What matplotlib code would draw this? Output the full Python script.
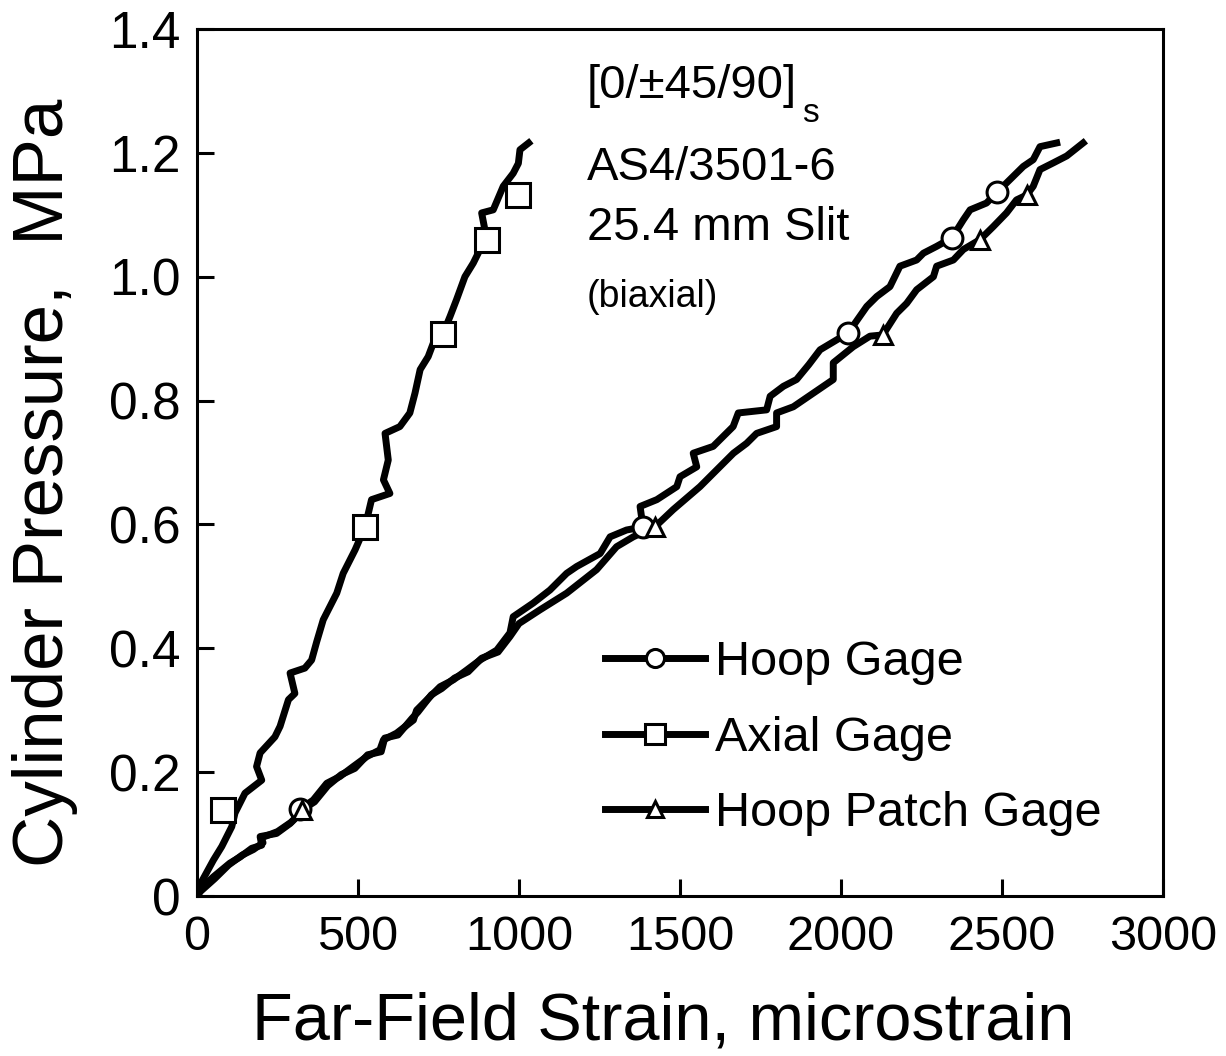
import matplotlib
matplotlib.use('Agg')
import matplotlib.pyplot as plt
from matplotlib.lines import Line2D
from matplotlib import font_manager

plt.rcParams['font.family'] = ['Liberation Sans', 'DejaVu Sans']

# ---------------- data ----------------
axial_x = [0, 9, 51, 77, 108, 118, 149, 201, 185, 196, 242, 258, 284, 304, 289, 335, 356,
           372, 392, 434, 454, 491, 522, 542, 599, 579, 594, 584, 630, 661, 677, 693, 718,
           734, 764, 786, 806, 832, 858, 879, 900, 884, 920, 951, 982, 998, 1003, 1030]
axial_y = [0, 0.018, 0.058, 0.080, 0.112, 0.134, 0.166, 0.187, 0.209, 0.231, 0.257, 0.274,
           0.317, 0.327, 0.360, 0.368, 0.381, 0.411, 0.446, 0.489, 0.521, 0.559, 0.596, 0.640,
           0.650, 0.672, 0.704, 0.747, 0.758, 0.780, 0.812, 0.850, 0.871, 0.893, 0.908, 0.936,
           0.963, 1.000, 1.022, 1.044, 1.060, 1.103, 1.108, 1.146, 1.167, 1.183, 1.205, 1.216]

hoop_x = [0, 9, 51, 102, 134, 170, 201, 196, 247, 289, 310, 320, 361, 403, 444, 485, 527,
          568, 579, 620, 672, 682, 724, 755, 796, 838, 879, 931, 972, 982, 1044, 1096, 1148,
          1179, 1252, 1283, 1334, 1385, 1376, 1428, 1490, 1500, 1552, 1541, 1603, 1665, 1681,
          1769, 1780, 1821, 1862, 1900, 1935, 2022, 2080, 2111, 2152, 2183, 2235, 2256, 2297,
          2345, 2380, 2401, 2452, 2484, 2525, 2566, 2597, 2618, 2670]
hoop_y = [0, 0.010, 0.031, 0.053, 0.063, 0.077, 0.082, 0.096, 0.101, 0.117, 0.128, 0.140,
          0.155, 0.182, 0.193, 0.209, 0.225, 0.236, 0.252, 0.263, 0.284, 0.300, 0.322, 0.338,
          0.349, 0.365, 0.381, 0.397, 0.425, 0.451, 0.473, 0.494, 0.521, 0.532, 0.553, 0.580,
          0.591, 0.596, 0.629, 0.640, 0.661, 0.677, 0.693, 0.715, 0.726, 0.758, 0.780, 0.785,
          0.807, 0.823, 0.834, 0.858, 0.882, 0.909, 0.952, 0.968, 0.984, 1.017, 1.027, 1.038,
          1.049, 1.063, 1.092, 1.108, 1.119, 1.136, 1.157, 1.178, 1.189, 1.210, 1.216]

patch_x = [0, 12, 55, 98, 140, 175, 205, 200, 250, 292, 316, 326, 365, 406, 448, 490, 530,
           572, 583, 624, 668, 686, 728, 760, 800, 842, 884, 935, 972, 1000, 1065, 1148, 1241,
           1303, 1355, 1422, 1479, 1562, 1614, 1666, 1707, 1738, 1800, 1800, 1852, 1914, 1976,
           1976, 2038, 2090, 2130, 2173, 2204, 2235, 2287, 2297, 2349, 2380, 2432, 2473, 2514,
           2545, 2577, 2597, 2618, 2660, 2701, 2752]
patch_y = [0, 0.008, 0.028, 0.050, 0.066, 0.075, 0.086, 0.094, 0.104, 0.119, 0.131, 0.139,
           0.152, 0.178, 0.196, 0.206, 0.228, 0.233, 0.255, 0.260, 0.287, 0.297, 0.325, 0.335,
           0.352, 0.362, 0.384, 0.394, 0.419, 0.440, 0.462, 0.489, 0.527, 0.564, 0.580, 0.596,
           0.624, 0.661, 0.688, 0.715, 0.731, 0.747, 0.758, 0.780, 0.790, 0.812, 0.834, 0.861,
           0.887, 0.904, 0.906, 0.941, 0.957, 0.979, 1.000, 1.017, 1.027, 1.044, 1.060, 1.081,
           1.103, 1.124, 1.132, 1.146, 1.173, 1.184, 1.195, 1.216]

# marker positions
hoop_mx = [320, 1385, 2022, 2345, 2484]
hoop_my = [0.140, 0.596, 0.909, 1.063, 1.136]
axial_mx = [81, 522, 764, 900, 997]
axial_my = [0.139, 0.596, 0.908, 1.060, 1.132]
patch_mx = [326, 1422, 2130, 2432, 2577]
patch_my = [0.139, 0.596, 0.906, 1.060, 1.132]

series_labels = ['Hoop Gage', 'Axial Gage', 'Hoop Patch Gage']
x_ticks = [0, 500, 1000, 1500, 2000, 2500, 3000]
x_ticklabels = ['0', '500', '1000', '1500', '2000', '2500', '3000']
y_ticks = [0, 0.2, 0.4, 0.6, 0.8, 1.0, 1.2, 1.4]
y_ticklabels = ['0', '0.2', '0.4', '0.6', '0.8', '1.0', '1.2', '1.4']
annot_lines = ['AS4/3501-6', '25.4 mm Slit']

# ---------------- figure ----------------
W, H = 1226, 1056
fig = plt.figure(figsize=(W / 100, H / 100), dpi=100)
L, R, T, B = 197, 1163, 29, 896
ax = fig.add_axes([L / W, 1 - B / H, (R - L) / W, (B - T) / H])

LW = 5.0
ax.plot(hoop_x, hoop_y, color='black', lw=LW, zorder=3)
ax.plot(patch_x, patch_y, color='black', lw=LW, zorder=3)
ax.plot(axial_x, axial_y, color='black', lw=LW, zorder=3)

mk = dict(linestyle='none', markerfacecolor='white', markeredgecolor='black',
          markeredgewidth=2.2, zorder=5)
ax.plot(hoop_mx, hoop_my, marker='o', markersize=15, **mk)
ax.plot(axial_mx, axial_my, marker='s', markersize=17, **mk)
ax.plot(patch_mx, patch_my, marker='^', markersize=13, **mk)

ax.set_xlim(0, 3000)
ax.set_ylim(0, 1.4)

names = {f.name for f in font_manager.fontManager.ttflist}
xfam = ['Liberation Sans Narrow', 'Liberation Sans'] if 'Liberation Sans Narrow' in names \
    else ['Liberation Sans', 'DejaVu Sans']

ax.set_xticks(x_ticks)
ax.set_xticklabels(x_ticklabels, fontsize=35, family=xfam)
ax.set_yticks(y_ticks)
ax.set_yticklabels(y_ticklabels, fontsize=37)
ax.tick_params(axis='both', direction='in', length=12, width=2.2)
ax.tick_params(axis='x', pad=14)
ax.tick_params(axis='y', pad=12)
for s in ax.spines.values():
    s.set_linewidth(2.2)

# axis labels
fig.text(45 / W, 1 - 483 / H, 'Cylinder Pressure,  MPa', rotation=90,
         ha='center', va='center', fontsize=51)
fig.text(663 / W, 1 - 1040 / H, 'Far-Field Strain, microstrain',
         ha='center', va='baseline', fontsize=48)

# annotations
def axc(px, py):
    return (px - L) / (R - L), (B - py) / (B - T)

ax.text(*axc(587, 98), '[0/\u00b145/90]', transform=ax.transAxes, fontsize=34,
        ha='left', va='baseline')
ax.text(*axc(802, 122), 's', transform=ax.transAxes, fontsize=24,
        ha='left', va='baseline')
ax.text(*axc(587, 180), annot_lines[0], transform=ax.transAxes, fontsize=34,
        ha='left', va='baseline')
ax.text(*axc(587, 240), annot_lines[1], transform=ax.transAxes, fontsize=34,
        ha='left', va='baseline')
ax.text(*axc(587, 307), '(biaxial)', transform=ax.transAxes, fontsize=27,
        ha='left', va='baseline')

# legend
lk = dict(color='black', lw=LW, markerfacecolor='white', markeredgecolor='black',
          markeredgewidth=2.2)
handles = [Line2D([], [], marker='o', markersize=13, **lk),
           Line2D([], [], marker='s', markersize=14, **lk),
           Line2D([], [], marker='^', markersize=11, **lk)]
ax.legend(handles, series_labels, loc='upper left', bbox_to_anchor=axc(605, 640),
          frameon=False, fontsize=35, handlelength=2.06, handletextpad=0.2,
          labelspacing=0.63, borderpad=0, borderaxespad=0)

fig.savefig('out.png', dpi=100)
